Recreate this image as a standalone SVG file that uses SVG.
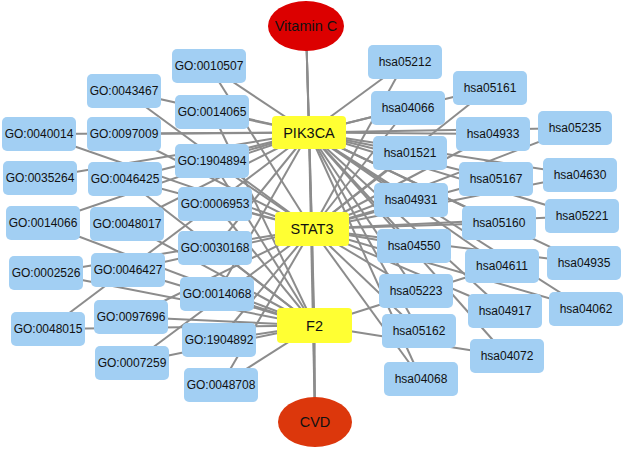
<svg xmlns="http://www.w3.org/2000/svg" width="625" height="449" viewBox="0 0 625 449">
<style>
.e{stroke:#8c8c8c;stroke-width:2;fill:none}
.n rect{fill:#a2cff3;stroke:none}
.h rect{fill:#ffff33;stroke:none}
text{font-family:"Liberation Sans",Arial,sans-serif;font-size:12px;fill:#111;text-anchor:middle;dominant-baseline:central}
.big{font-size:14.5px}
</style>
<rect width="625" height="449" fill="#ffffff"/>
<g id="edges" class="e">
<line x1="306" y1="26" x2="309" y2="132.5"/>
<line x1="306" y1="26" x2="312" y2="229"/>
<line x1="306" y1="26" x2="314.5" y2="325.5"/>
<line x1="315" y1="422" x2="309" y2="132.5"/>
<line x1="315" y1="422" x2="312" y2="229"/>
<line x1="315" y1="422" x2="314.5" y2="325.5"/>
<line x1="309" y1="132.5" x2="209" y2="66"/>
<line x1="309" y1="132.5" x2="124" y2="91"/>
<line x1="309" y1="132.5" x2="212" y2="112"/>
<line x1="309" y1="132.5" x2="39" y2="134"/>
<line x1="309" y1="132.5" x2="124" y2="134"/>
<line x1="309" y1="132.5" x2="212" y2="161"/>
<line x1="309" y1="132.5" x2="40" y2="178"/>
<line x1="309" y1="132.5" x2="125" y2="179"/>
<line x1="309" y1="132.5" x2="43" y2="223"/>
<line x1="309" y1="132.5" x2="127" y2="224"/>
<line x1="309" y1="132.5" x2="215" y2="248"/>
<line x1="309" y1="132.5" x2="217" y2="294"/>
<line x1="309" y1="132.5" x2="48" y2="329"/>
<line x1="312" y1="229" x2="209" y2="66"/>
<line x1="312" y1="229" x2="124" y2="91"/>
<line x1="312" y1="229" x2="39" y2="134"/>
<line x1="312" y1="229" x2="124" y2="134"/>
<line x1="312" y1="229" x2="212" y2="161"/>
<line x1="312" y1="229" x2="125" y2="179"/>
<line x1="312" y1="229" x2="215" y2="204"/>
<line x1="312" y1="229" x2="46" y2="273"/>
<line x1="312" y1="229" x2="128" y2="270"/>
<line x1="312" y1="229" x2="131" y2="317"/>
<line x1="312" y1="229" x2="219" y2="340"/>
<line x1="312" y1="229" x2="132" y2="363"/>
<line x1="312" y1="229" x2="221" y2="385"/>
<line x1="314.5" y1="325.5" x2="212" y2="112"/>
<line x1="314.5" y1="325.5" x2="212" y2="161"/>
<line x1="314.5" y1="325.5" x2="125" y2="179"/>
<line x1="314.5" y1="325.5" x2="215" y2="204"/>
<line x1="314.5" y1="325.5" x2="43" y2="223"/>
<line x1="314.5" y1="325.5" x2="127" y2="224"/>
<line x1="314.5" y1="325.5" x2="215" y2="248"/>
<line x1="314.5" y1="325.5" x2="46" y2="273"/>
<line x1="314.5" y1="325.5" x2="128" y2="270"/>
<line x1="314.5" y1="325.5" x2="217" y2="294"/>
<line x1="314.5" y1="325.5" x2="131" y2="317"/>
<line x1="314.5" y1="325.5" x2="48" y2="329"/>
<line x1="314.5" y1="325.5" x2="219" y2="340"/>
<line x1="314.5" y1="325.5" x2="132" y2="363"/>
<line x1="314.5" y1="325.5" x2="221" y2="385"/>
<line x1="309" y1="132.5" x2="405" y2="62"/>
<line x1="309" y1="132.5" x2="490" y2="88"/>
<line x1="309" y1="132.5" x2="408" y2="108"/>
<line x1="309" y1="132.5" x2="493" y2="134"/>
<line x1="309" y1="132.5" x2="575" y2="128"/>
<line x1="309" y1="132.5" x2="410" y2="153"/>
<line x1="309" y1="132.5" x2="496" y2="179"/>
<line x1="309" y1="132.5" x2="580" y2="175"/>
<line x1="309" y1="132.5" x2="411" y2="200"/>
<line x1="309" y1="132.5" x2="499" y2="223"/>
<line x1="309" y1="132.5" x2="582" y2="216"/>
<line x1="309" y1="132.5" x2="414" y2="246"/>
<line x1="309" y1="132.5" x2="502" y2="266"/>
<line x1="309" y1="132.5" x2="584" y2="263"/>
<line x1="309" y1="132.5" x2="416" y2="291"/>
<line x1="309" y1="132.5" x2="505" y2="311"/>
<line x1="309" y1="132.5" x2="586" y2="309"/>
<line x1="309" y1="132.5" x2="419" y2="331"/>
<line x1="309" y1="132.5" x2="507" y2="356"/>
<line x1="309" y1="132.5" x2="421" y2="379"/>
<line x1="312" y1="229" x2="405" y2="62"/>
<line x1="312" y1="229" x2="490" y2="88"/>
<line x1="312" y1="229" x2="408" y2="108"/>
<line x1="312" y1="229" x2="493" y2="134"/>
<line x1="312" y1="229" x2="575" y2="128"/>
<line x1="312" y1="229" x2="410" y2="153"/>
<line x1="312" y1="229" x2="496" y2="179"/>
<line x1="312" y1="229" x2="580" y2="175"/>
<line x1="312" y1="229" x2="411" y2="200"/>
<line x1="312" y1="229" x2="499" y2="223"/>
<line x1="312" y1="229" x2="582" y2="216"/>
<line x1="312" y1="229" x2="414" y2="246"/>
<line x1="312" y1="229" x2="584" y2="263"/>
<line x1="312" y1="229" x2="416" y2="291"/>
<line x1="312" y1="229" x2="505" y2="311"/>
<line x1="312" y1="229" x2="586" y2="309"/>
<line x1="312" y1="229" x2="419" y2="331"/>
<line x1="312" y1="229" x2="421" y2="379"/>
<line x1="314.5" y1="325.5" x2="502" y2="266"/>
<line x1="314.5" y1="325.5" x2="507" y2="356"/>
</g>
<g id="vitaminc"><ellipse cx="306" cy="26" rx="38" ry="25" fill="#dc0000"/><text class="big" x="306" y="26">Vitamin C</text></g>
<g id="cvd"><ellipse cx="315" cy="422" rx="37" ry="25" fill="#dc370c"/><text class="big" x="315" y="422">CVD</text></g>
<g id="pik3ca" class="h"><rect x="272" y="116" width="74" height="33" rx="4"/><text class="big" x="309" y="132.5">PIK3CA</text></g>
<g id="stat3" class="h"><rect x="275" y="212" width="74" height="34" rx="4"/><text class="big" x="312" y="229">STAT3</text></g>
<g id="f2" class="h"><rect x="277" y="308" width="75" height="35" rx="4"/><text class="big" x="314.5" y="325.5">F2</text></g>
<g id="go0010507" class="n"><rect x="172" y="49" width="74" height="34" rx="5"/><text x="209" y="66">GO:0010507</text></g>
<g id="go0043467" class="n"><rect x="87" y="74" width="74" height="34" rx="5"/><text x="124" y="91">GO:0043467</text></g>
<g id="go0014065" class="n"><rect x="175" y="95" width="74" height="34" rx="5"/><text x="212" y="112">GO:0014065</text></g>
<g id="go0040014" class="n"><rect x="2" y="117" width="74" height="34" rx="5"/><text x="39" y="134">GO:0040014</text></g>
<g id="go0097009" class="n"><rect x="87" y="117" width="74" height="34" rx="5"/><text x="124" y="134">GO:0097009</text></g>
<g id="go1904894" class="n"><rect x="175" y="144" width="74" height="34" rx="5"/><text x="212" y="161">GO:1904894</text></g>
<g id="go0035264" class="n"><rect x="3" y="161" width="74" height="34" rx="5"/><text x="40" y="178">GO:0035264</text></g>
<g id="go0046425" class="n"><rect x="88" y="162" width="74" height="34" rx="5"/><text x="125" y="179">GO:0046425</text></g>
<g id="go0006953" class="n"><rect x="178" y="187" width="74" height="34" rx="5"/><text x="215" y="204">GO:0006953</text></g>
<g id="go0014066" class="n"><rect x="6" y="206" width="74" height="34" rx="5"/><text x="43" y="223">GO:0014066</text></g>
<g id="go0048017" class="n"><rect x="90" y="207" width="74" height="34" rx="5"/><text x="127" y="224">GO:0048017</text></g>
<g id="go0030168" class="n"><rect x="178" y="231" width="74" height="34" rx="5"/><text x="215" y="248">GO:0030168</text></g>
<g id="go0002526" class="n"><rect x="9" y="256" width="74" height="34" rx="5"/><text x="46" y="273">GO:0002526</text></g>
<g id="go0046427" class="n"><rect x="91" y="253" width="74" height="34" rx="5"/><text x="128" y="270">GO:0046427</text></g>
<g id="go0014068" class="n"><rect x="180" y="277" width="74" height="34" rx="5"/><text x="217" y="294">GO:0014068</text></g>
<g id="go0097696" class="n"><rect x="94" y="300" width="74" height="34" rx="5"/><text x="131" y="317">GO:0097696</text></g>
<g id="go0048015" class="n"><rect x="11" y="312" width="74" height="34" rx="5"/><text x="48" y="329">GO:0048015</text></g>
<g id="go1904892" class="n"><rect x="182" y="323" width="74" height="34" rx="5"/><text x="219" y="340">GO:1904892</text></g>
<g id="go0007259" class="n"><rect x="95" y="346" width="74" height="34" rx="5"/><text x="132" y="363">GO:0007259</text></g>
<g id="go0048708" class="n"><rect x="184" y="368" width="74" height="34" rx="5"/><text x="221" y="385">GO:0048708</text></g>
<g id="hsa05212" class="n"><rect x="368" y="45" width="74" height="34" rx="5"/><text x="405" y="62">hsa05212</text></g>
<g id="hsa05161" class="n"><rect x="453" y="71" width="74" height="34" rx="5"/><text x="490" y="88">hsa05161</text></g>
<g id="hsa04066" class="n"><rect x="371" y="91" width="74" height="34" rx="5"/><text x="408" y="108">hsa04066</text></g>
<g id="hsa04933" class="n"><rect x="456" y="117" width="74" height="34" rx="5"/><text x="493" y="134">hsa04933</text></g>
<g id="hsa05235" class="n"><rect x="538" y="111" width="74" height="34" rx="5"/><text x="575" y="128">hsa05235</text></g>
<g id="hsa01521" class="n"><rect x="373" y="136" width="74" height="34" rx="5"/><text x="410" y="153">hsa01521</text></g>
<g id="hsa05167" class="n"><rect x="459" y="162" width="74" height="34" rx="5"/><text x="496" y="179">hsa05167</text></g>
<g id="hsa04630" class="n"><rect x="543" y="158" width="74" height="34" rx="5"/><text x="580" y="175">hsa04630</text></g>
<g id="hsa04931" class="n"><rect x="374" y="183" width="74" height="34" rx="5"/><text x="411" y="200">hsa04931</text></g>
<g id="hsa05160" class="n"><rect x="462" y="206" width="74" height="34" rx="5"/><text x="499" y="223">hsa05160</text></g>
<g id="hsa05221" class="n"><rect x="545" y="199" width="74" height="34" rx="5"/><text x="582" y="216">hsa05221</text></g>
<g id="hsa04550" class="n"><rect x="377" y="229" width="74" height="34" rx="5"/><text x="414" y="246">hsa04550</text></g>
<g id="hsa04611" class="n"><rect x="465" y="249" width="74" height="34" rx="5"/><text x="502" y="266">hsa04611</text></g>
<g id="hsa04935" class="n"><rect x="547" y="246" width="74" height="34" rx="5"/><text x="584" y="263">hsa04935</text></g>
<g id="hsa05223" class="n"><rect x="379" y="274" width="74" height="34" rx="5"/><text x="416" y="291">hsa05223</text></g>
<g id="hsa04917" class="n"><rect x="468" y="294" width="74" height="34" rx="5"/><text x="505" y="311">hsa04917</text></g>
<g id="hsa04062" class="n"><rect x="549" y="292" width="74" height="34" rx="5"/><text x="586" y="309">hsa04062</text></g>
<g id="hsa05162" class="n"><rect x="382" y="314" width="74" height="34" rx="5"/><text x="419" y="331">hsa05162</text></g>
<g id="hsa04072" class="n"><rect x="470" y="339" width="74" height="34" rx="5"/><text x="507" y="356">hsa04072</text></g>
<g id="hsa04068" class="n"><rect x="384" y="362" width="74" height="34" rx="5"/><text x="421" y="379">hsa04068</text></g>
</svg>
